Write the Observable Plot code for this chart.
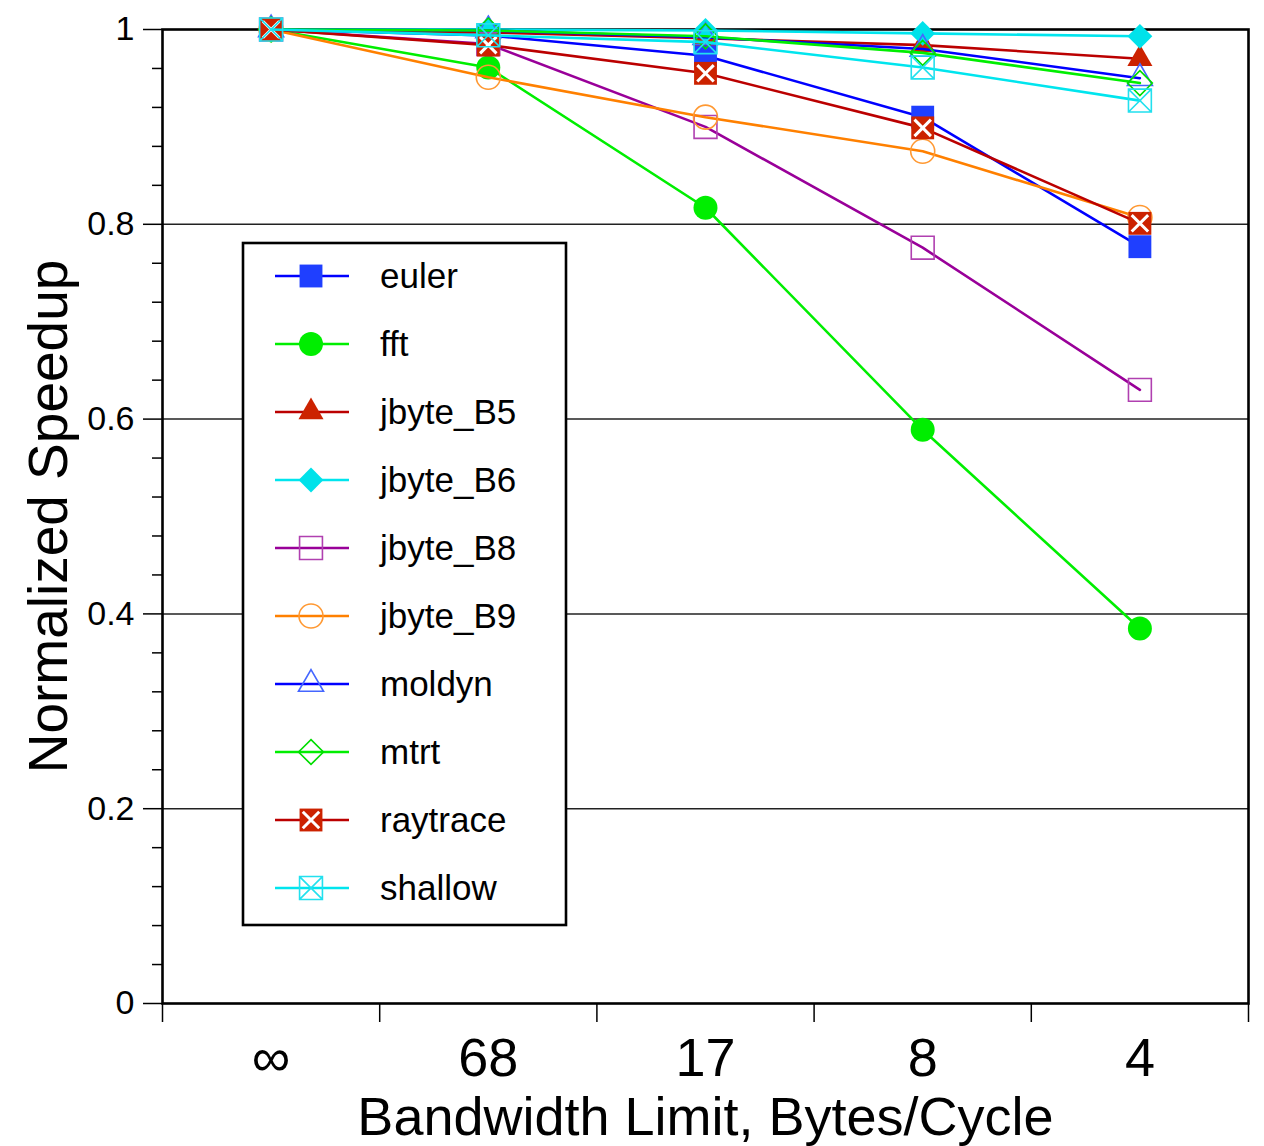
<!DOCTYPE html>
<html><head><meta charset="utf-8">
<script src="https://cdn.jsdelivr.net/npm/d3@7"></script>
<script src="https://cdn.jsdelivr.net/npm/@observablehq/plot@0.6"></script>
<style>
body{margin:0;background:#fff;}
#chart{width:1264px;height:1146px;overflow:hidden;}
#chart svg{display:block;}
</style></head><body><div id="chart"></div>
<script>
// ---- data ----
const bandwidths = ["∞", "68", "17", "8", "4"];
const seriesNames = ["euler","fft","jbyte_B5","jbyte_B6","jbyte_B8","jbyte_B9","moldyn","mtrt","raytrace","shallow"];
const euler    = [1, 0.994, 0.973, 0.910, 0.777];
const fft      = [1, 0.961, 0.817, 0.589, 0.385];
const jbyte_B5 = [1, 0.997, 0.991, 0.984, 0.970];
const jbyte_B6 = [1, 1.000, 0.999, 0.996, 0.993];
const jbyte_B8 = [1, 0.985, 0.900, 0.776, 0.630];
const jbyte_B9 = [1, 0.951, 0.910, 0.875, 0.807];
const moldyn   = [1, 0.999, 0.992, 0.980, 0.950];
const mtrt     = [1, 0.999, 0.993, 0.976, 0.945];
const raytrace = [1, 0.984, 0.955, 0.899, 0.801];
const shallow  = [1, 0.994, 0.987, 0.961, 0.927];
const yTicks = [0, 0.2, 0.4, 0.6, 0.8, 1];
const yTickLabels = ["0", "0.2", "0.4", "0.6", "0.8", "1"];
const yGridTicks = [0.2, 0.4, 0.6, 0.8];
const yMinorTicks = [0.04,0.08,0.12,0.16,0.24,0.28,0.32,0.36,0.44,0.48,0.52,0.56,0.64,0.68,0.72,0.76,0.84,0.88,0.92,0.96];
const xTitle = "Bandwidth Limit, Bytes/Cycle";
const yTitle = "Normalized Speedup";

// ---- styles ----
const boxSym = {draw(c, size){const h = Math.sqrt(size)/2; c.moveTo(-h,-h); c.lineTo(h,-h); c.lineTo(h,h); c.lineTo(-h,h); c.closePath();}};
const boxXSym = {draw(c, size){const h = Math.sqrt(size)/2; c.moveTo(-h,-h); c.lineTo(h,-h); c.lineTo(h,h); c.lineTo(-h,h); c.closePath(); c.moveTo(-h,-h); c.lineTo(h,h); c.moveTo(h,-h); c.lineTo(-h,h);}};
const crossSym = {draw(c, size){const h = Math.sqrt(size)/2*0.72; c.moveTo(-h,-h); c.lineTo(h,h); c.moveTo(h,-h); c.lineTo(-h,h);}};
const symTypes = {square: d3.symbolSquare, circle: d3.symbolCircle, triangle: d3.symbolTriangle, diamond2: d3.symbolDiamond2, box: boxSym, boxX: boxXSym};
const symR = {square: 12.9, circle: 12, triangle: 9.3, diamond2: 11.2, box: 12.9, boxX: 12.9};

const styles = {
  euler:    {line: "#0000ff", symbol: "square",   fill: "#1f3fff", stroke: "none"},
  fft:      {line: "#00ee00", symbol: "circle",   fill: "#00ee00", stroke: "none"},
  jbyte_B5: {line: "#bb0000", symbol: "triangle", fill: "#cc2200", stroke: "none"},
  jbyte_B6: {line: "#00e5ee", symbol: "diamond2", fill: "#00e2ea", stroke: "none"},
  jbyte_B8: {line: "#990099", symbol: "box",      fill: "none",    stroke: "#b040b0"},
  jbyte_B9: {line: "#ff8000", symbol: "circle",   fill: "none",    stroke: "#ff9933"},
  moldyn:   {line: "#0000ff", symbol: "triangle", fill: "none",    stroke: "#4466ff"},
  mtrt:     {line: "#00ee00", symbol: "diamond2", fill: "none",    stroke: "#00dd00"},
  raytrace: {line: "#bb0000", symbol: "box",      fill: "#cc2200", stroke: "none", cross: "#ffffff"},
  shallow:  {line: "#00e5ee", symbol: "boxX",     fill: "none",    stroke: "#22e0ee"}
};

const seriesValues = {euler, fft, jbyte_B5, jbyte_B6, jbyte_B8, jbyte_B9, moldyn, mtrt, raytrace, shallow};
const rows = seriesNames.flatMap(name => seriesValues[name].map((v, i) => ({series: name, x: i, y: v})));

const seriesMarks = seriesNames.flatMap(name => {
  const s = styles[name];
  const d = rows.filter(r => r.series === name);
  const m = [
    Plot.line(d, {x: "x", y: "y", stroke: s.line, strokeWidth: 2.6, strokeLinejoin: "round"}),
    Plot.dot(d, {x: "x", y: "y", symbol: symTypes[s.symbol], r: symR[s.symbol], fill: s.fill, stroke: s.stroke, strokeWidth: 1.6})
  ];
  if (s.cross) m.push(Plot.dot(d, {x: "x", y: "y", symbol: crossSym, r: symR[s.symbol], fill: "none", stroke: s.cross, strokeWidth: 3}));
  return m;
});

const svg = Plot.plot({
  width: 1264, height: 1146,
  marginLeft: 162, marginRight: 16, marginTop: 29, marginBottom: 143,
  style: {fontFamily: "'Liberation Sans', Arial, Helvetica, sans-serif", background: "white", color: "black", overflow: "visible"},
  x: {type: "linear", domain: [-0.5, 4.5], label: null},
  y: {domain: [0, 1], label: null},
  marks: [
    Plot.gridY(yGridTicks, {stroke: "#222", strokeOpacity: 1, strokeWidth: 1.5}),
    Plot.axisY({ticks: yMinorTicks, tickSize: 10, tickFormat: () => "", strokeWidth: 1.5, label: null}),
    Plot.axisY({ticks: yTicks, tickSize: 19, tickPadding: 9, tickFormat: d => yTickLabels[yTicks.indexOf(d)], fontSize: 34, strokeWidth: 1.5, label: null}),
    Plot.axisX({ticks: [-0.5, 0.5, 1.5, 2.5, 3.5, 4.5], tickSize: 19, tickFormat: () => "", strokeWidth: 1.5, label: null}),
    Plot.axisX({ticks: [0, 1, 2, 3, 4], tickSize: 0, tickPadding: 34, tickFormat: i => bandwidths[i], fontSize: 54, label: null}),
    Plot.frame({stroke: "black", strokeWidth: 2.6}),
    ...seriesMarks,
    Plot.text([xTitle], {text: d => d, frameAnchor: "bottom", lineAnchor: "bottom", textAnchor: "middle", dy: 131, fontSize: 54, fill: "black"}),
    Plot.text([yTitle], {text: d => d, frameAnchor: "left", lineAnchor: "bottom", textAnchor: "middle", rotate: -90, dx: -96, fontSize: 55, fill: "black"})
  ]
});

// ---- legend (drawn inside the plot area) ----
const g = d3.select(svg).append("g").attr("class", "legend").attr("text-anchor", "start");
g.append("rect").attr("x", 243).attr("y", 243).attr("width", 323).attr("height", 682)
  .attr("fill", "white").attr("stroke", "black").attr("stroke-width", 2.6);
seriesNames.forEach((name, i) => {
  const s = styles[name];
  const y = 276 + i * 68;
  g.append("line").attr("x1", 275).attr("x2", 349).attr("y1", y).attr("y2", y)
    .attr("stroke", s.line).attr("stroke-width", 2.6);
  const r = symR[s.symbol];
  g.append("path").attr("transform", `translate(311,${y})`)
    .attr("d", d3.symbol(symTypes[s.symbol], Math.PI * r * r)())
    .attr("fill", s.fill).attr("stroke", s.stroke).attr("stroke-width", 1.6);
  if (s.cross) g.append("path").attr("transform", `translate(311,${y})`)
    .attr("d", d3.symbol(crossSym, Math.PI * r * r)())
    .attr("fill", "none").attr("stroke", s.cross).attr("stroke-width", 3);
  g.append("text").attr("x", 380).attr("y", y).attr("dy", "0.35em")
    .attr("text-anchor", "start").attr("font-size", 35).attr("fill", "black").text(name);
});

document.getElementById("chart").appendChild(svg);
</script></body></html>
